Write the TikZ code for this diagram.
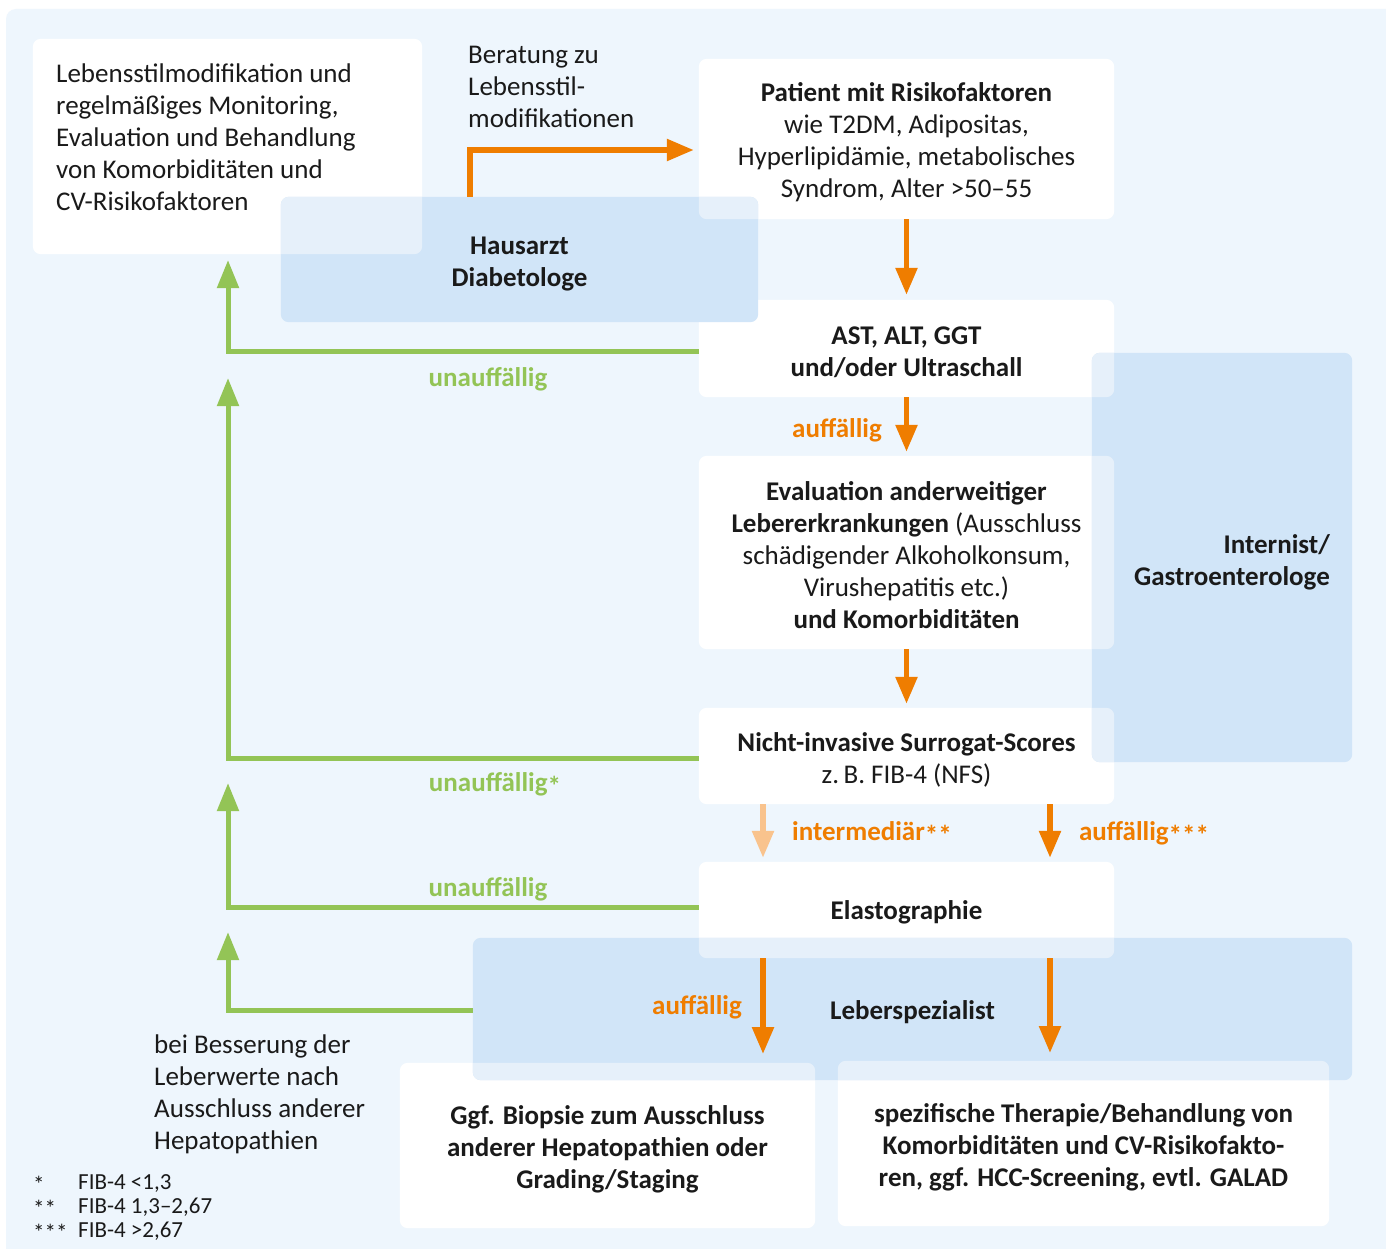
\documentclass[tikz,border=0pt]{standalone}
\usepackage{fontspec}
\setmainfont{Carlito}
\usetikzlibrary{arrows.meta}
\definecolor{bgc}{HTML}{EEF6FD}
\definecolor{regc}{HTML}{D1E5F8}
\definecolor{ovc}{HTML}{E6F0FA}
\definecolor{orc}{HTML}{EF7D00}
\definecolor{lorc}{HTML}{F9C38D}
\definecolor{grc}{HTML}{93C456}
\definecolor{txtc}{HTML}{1A1A1A}
\newcommand{\mainsize}{\fontsize{27}{32}\selectfont}
\newcommand{\notesize}{\fontsize{23}{24}\selectfont}
\newcommand{\mystar}{\raisebox{-0.15em}{*}}
\pgfdeclarelayer{background}
\pgfsetlayers{background,main}
\begin{document}
\begin{tikzpicture}[x=1pt,y=-1pt,
  shape box/.style={inner sep=0pt},
  txt/.style={inner sep=0pt, align=center, font=\mainsize, text=txtc},
  regtxt/.style={inner sep=0pt, align=center, font=\mainsize\bfseries, text=txtc},
  plain/.style={inner sep=0pt, align=left, font=\mainsize, text=txtc},
  oarrow/.style={draw=orc, line width=5.5pt, -{Triangle[width=21pt,length=27pt]}},
  larrow/.style={draw=lorc, line width=5.5pt, -{Triangle[width=21pt,length=27pt]}},
  garrow/.style={draw=grc, line width=5pt, -{Triangle[width=21pt,length=28pt]}},
  olab/.style={inner sep=0pt, font=\mainsize\bfseries, text=orc},
  glab/.style={inner sep=0pt, font=\mainsize\bfseries, text=grc}]
\useasboundingbox (0,0) rectangle (1386,1249);

% box shapes
\node[shape box, minimum width=389pt, minimum height=215pt] (life) at (227.5,146.5) {};
\node[shape box, minimum width=415pt, minimum height=160pt] (patient) at (906.5,139) {};
\node[shape box, minimum width=415pt, minimum height=97pt] (ast) at (906.5,348.5) {};
\node[shape box, minimum width=415pt, minimum height=193pt] (eval) at (906.5,552.5) {};
\node[shape box, minimum width=415pt, minimum height=96pt] (nis) at (906.5,756) {};
\node[shape box, minimum width=415pt, minimum height=96pt] (elasto) at (906.5,910) {};
\node[shape box, minimum width=415pt, minimum height=165pt] (biopsie) at (607.5,1145.5) {};
\node[shape box, minimum width=491pt, minimum height=165pt] (therapie) at (1083.5,1143.5) {};
% region shapes
\node[shape box, minimum width=477pt, minimum height=125pt] (haus) at (519.5,259.5) {};
\node[shape box, minimum width=260pt, minimum height=409pt] (intern) at (1222,557.5) {};
\node[shape box, minimum width=879pt, minimum height=142pt] (leber) at (912.5,1009) {};

% box texts
\node[txt] (patientT) at (906.5,142)
  {\textbf{Patient mit Risikofaktoren}\\wie T2DM, Adipositas,\\Hyperlipidämie, metabolisches\\Syndrom, Alter >50–55};
\node[txt] (astT) at (906.5,352)
  {\textbf{AST, ALT, GGT}\\\textbf{und/oder Ultraschall}};
\node[txt] (evalT) at (906.5,555.5)
  {\textbf{Evaluation anderweitiger}\\\textbf{Lebererkrankungen} (Ausschluss\\schädigender Alkoholkonsum,\\Virushepatitis etc.)\\\textbf{und Komorbiditäten}};
\node[txt] (nisT) at (906.5,760)
  {\textbf{Nicht-invasive Surrogat-Scores}\\z.\,B. FIB-4 (NFS)};
\node[txt] (elastoT) at (906.5,912)
  {\textbf{Elastographie}};
\node[txt] (biopsieT) at (607.5,1149.5)
  {\textbf{Ggf. Biopsie zum Ausschluss}\\\textbf{anderer Hepatopathien oder}\\\textbf{Grading/Staging}};
\node[txt] (therapieT) at (1083.5,1147.5)
  {\textbf{spezifische Therapie/Behandlung von}\\\textbf{Komorbiditäten und CV-Risikofakto-}\\\textbf{ren, ggf. HCC-Screening, evtl. GALAD}};
% region texts
\node[regtxt] (hausT) at (519.5,264) {Hausarzt\\Diabetologe};
\node[regtxt, align=right, anchor=east] (internT) at (1330,562) {Internist/\\Gastroenterologe};
\node[regtxt] (leberT) at (912.5,1012) {Leberspezialist};

% free texts
\node[plain, anchor=north west] (lifetext) at (56,64)
  {Lebensstilmodifikation und\\regelmäßiges Monitoring,\\Evaluation und Behandlung\\von Komorbiditäten und\\CV-Risikofaktoren};
\node[plain, anchor=north west] (beratung) at (468,46)
  {Beratung zu\\Lebensstil-\\modifikationen};
\node[plain, anchor=north west] (besserung) at (154,1035)
  {bei Besserung der\\Leberwerte nach\\Ausschluss anderer\\Hepatopathien};
\node[plain, anchor=north west, font=\notesize] (notes) at (33,1174)
  {\makebox[45pt][l]{\mystar}FIB-4 <1,3\\\makebox[45pt][l]{\mystar\mystar}FIB-4 1,3–2,67\\\makebox[45pt][l]{\mystar\mystar\mystar}FIB-4 >2,67};

% background fills
\begin{pgfonlayer}{background}
  \fill[white] (0,0) rectangle (1386,1249);
  \fill[bgc, rounded corners=10pt] (6,9) rectangle (1400,1262);
  \foreach \n in {life,patient,ast,eval,nis,elasto,biopsie,therapie}
    \fill[white, rounded corners=8pt] (\n.south west) rectangle (\n.north east);
  \foreach \n in {haus,intern,leber}
    \fill[regc, rounded corners=8pt] (\n.south west) rectangle (\n.north east);
  \begin{scope}
    \clip[rounded corners=8pt] (haus.south west) rectangle (haus.north east);
    \foreach \n in {life,patient}
      \fill[ovc, rounded corners=8pt] (\n.south west) rectangle (\n.north east);
  \end{scope}
  \begin{scope}
    \clip[rounded corners=8pt] (intern.south west) rectangle (intern.north east);
    \foreach \n in {ast,eval,nis}
      \fill[ovc, rounded corners=8pt] (\n.south west) rectangle (\n.north east);
  \end{scope}
  \begin{scope}
    \clip[rounded corners=8pt] (leber.south west) rectangle (leber.north east);
    \foreach \n in {elasto,biopsie,therapie}
      \fill[ovc, rounded corners=8pt] (\n.south west) rectangle (\n.north east);
  \end{scope}
\end{pgfonlayer}

% orange connectors
\draw[oarrow] ([xshift=-49.5pt]haus.north) |- ([xshift=-5pt,yshift=-11pt]patient.west);
\draw[oarrow, shorten >=5pt] (patient.south) -- (ast.north);
\draw[oarrow, shorten >=4pt] (ast.south) -- (eval.north);
\draw[oarrow, shorten >=4pt] (eval.south) -- (nis.north);
\draw[larrow, shorten >=4pt] ([xshift=-143.5pt]nis.south) -- ([xshift=-143.5pt]elasto.north);
\draw[oarrow, shorten >=4pt] ([xshift=143.5pt]nis.south) -- ([xshift=143.5pt]elasto.north);
\coordinate (bioptop) at (763,1063);
\coordinate (thertop) at (1050,1061);
\draw[oarrow, shorten >=9pt] ([xshift=-143.5pt]elasto.south) -- (bioptop);
\draw[oarrow, shorten >=8pt] ([xshift=143.5pt]elasto.south) -- (thertop);

% green connectors
\coordinate (g1) at (228,254);
\coordinate (g2) at (228,378);
\coordinate (g3) at (228,783);
\coordinate (g4) at (228,932);
\draw[garrow, shorten >=6pt] ([yshift=-2.5pt]ast.west) -| (g1);
\draw[garrow] ([yshift=-2pt]nis.west) -| (g2);
\draw[garrow] ([yshift=3pt]elasto.west) -| (g3);
\draw[garrow] ([yshift=-1pt]leber.west) -| (g4);

% labels
\node[olab] (l1) at (837,430) {auffällig};
\node[olab] (l2) at (872,833) {intermediär\mystar\mystar};
\node[olab] (l3) at (1144,833) {auffällig\mystar\mystar\mystar};
\node[olab] (l4) at (697,1007) {auffällig};
\node[glab] (g1l) at (488,379) {unauffällig};
\node[glab] (g2l) at (495,784) {unauffällig\mystar};
\node[glab] (g3l) at (488,889) {unauffällig};
\end{tikzpicture}
\end{document}
